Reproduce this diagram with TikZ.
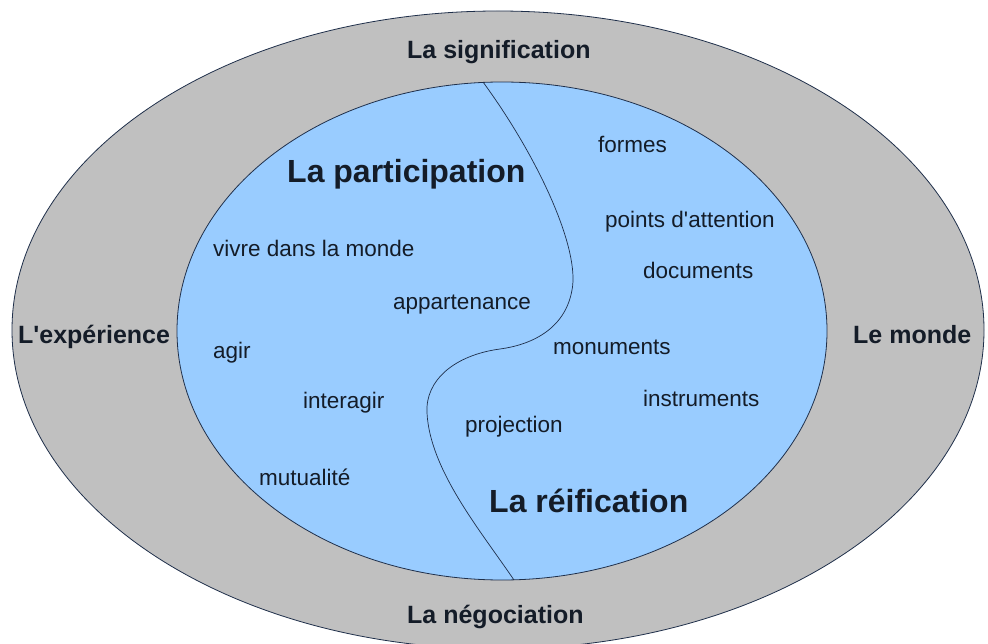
\documentclass[tikz,border=0pt]{standalone}
\usepackage{fontspec}
\setmainfont{Liberation Sans}
\usepackage{tikz}
\usetikzlibrary{positioning}
\usepackage{xcolor}

\definecolor{ringgray}{HTML}{C0C0C0}
\definecolor{innerblue}{HTML}{99CCFF}
\definecolor{edgeblue}{HTML}{1F2F4A}
\definecolor{textdark}{HTML}{141C28}

\begin{document}
\begin{tikzpicture}[
        x=1pt,
        y=-1pt,
        ringlabel/.style={
            inner sep=0pt,
            anchor=base west,
            text=textdark,
            font=\bfseries\fontsize{25}{30}\selectfont
        },
        title/.style={
            inner sep=0pt,
            anchor=base west,
            text=textdark,
            font=\bfseries\fontsize{32}{38}\selectfont
        },
        word/.style={
            inner sep=0pt,
            anchor=base west,
            text=textdark,
            font=\fontsize{22.5}{27}\selectfont
        },
        border/.style={draw=edgeblue, line width=0.8pt}
    ]

    % FRAME
    \useasboundingbox (0,0) rectangle (988,644);
    \fill[white] (0,0) rectangle (988,644);
    \clip (0,0) rectangle (988,644);

    % RINGS
    \draw[border, fill=ringgray] (498,330) ellipse [x radius=486, y radius=319];
    \draw[border, fill=innerblue] (502,331) ellipse [x radius=325, y radius=249];

    % DIVIDING CURVE
    \coordinate (top) at (483,82);
    \coordinate (bulge) at (572,290);
    \coordinate (neck) at (500,349);
    \coordinate (belly) at (427,413);
    \coordinate (bottom) at (514,580);
    \draw[edgeblue, line width=0.7pt] (top)
        .. controls (540,160) and (580,250) .. (bulge)
        .. controls (565,330) and (530,345) .. (neck)
        .. controls (455,355) and (425,380) .. (belly)
        .. controls (430,470) and (480,530) .. (bottom);

    % OUTER RING
    \node[ringlabel] (signif) at (407,59) {La signification};
    \node[ringlabel] (experience) at (18,343) {L\textquotesingle expérience};
    \node[ringlabel] (monde) at (853,343) {Le monde};
    \node[ringlabel] (negoc) at (407,623) {La négociation};

    % LEFT: PARTICIPATION
    \node[title] (particip) at (287,183) {La participation};
    \node[word] (vivre) at (213,257) {vivre dans la monde};
    \node[word] (appart) at (393,310) {appartenance};
    \node[word] (agir) at (213,358) {agir};
    \node[word] (interagir) at (303,408) {interagir};
    \node[word] (mutual) at (259,485) {mutualité};

    % RIGHT: REIFICATION
    \node[title] (reific) at (489,512) {La réification};
    \node[word] (formes) at (598,153) {formes};
    \node[word] (points) at (605,228) {points d\textquotesingle attention};
    \node[word] (docs) at (643,279) {documents};
    \node[word] (monum) at (553,355) {monuments};
    \node[word] (instr) at (643,406) {instruments};
    \node[word] (proj) at (465,432) {projection};

\end{tikzpicture}
\end{document}
